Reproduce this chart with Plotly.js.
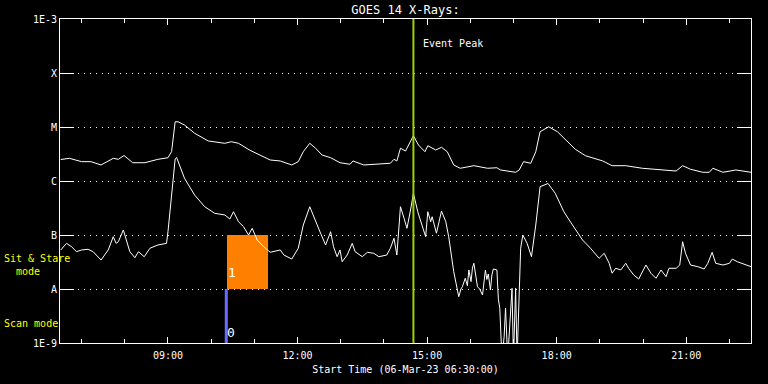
<!DOCTYPE html>
<html><head><meta charset="utf-8">
<script src="https://cdn.plot.ly/plotly-3.0.1.min.js"></script>
<style>html,body{margin:0;padding:0;background:#000;}#chart{width:768px;height:384px;}</style>
</head><body><div id="chart"></div>
<script>
const DAY = "2023-03-06 ";
const longTimes = ["06:31","06:43","07:00","07:13","07:27","07:44","07:51","07:59","08:11","08:28","08:46","09:00","09:05","09:10","09:14","09:23","09:37","09:56","10:19","10:28","10:38","10:54","11:22","11:36","11:52","12:01","12:08","12:17","12:25","12:34","12:46","12:59","13:13","13:17","13:32","13:46","14:09","14:14","14:18","14:23","14:30","14:41","14:48","14:57","15:01","15:12","15:20","15:28","15:37","15:46","16:05","16:24","16:37","16:42","17:03","17:08","17:14","17:24","17:31","17:37","17:49","18:01","18:15","18:26","18:40","19:04","19:17","19:36","19:59","20:22","20:46","20:55","21:06","21:23","21:32","21:37","21:51","22:09","22:30"];
const longFlux = [2.50e-6,2.63e-6,2.28e-6,2.28e-6,1.98e-6,2.63e-6,2.52e-6,2.97e-6,2.18e-6,2.18e-6,2.52e-6,2.70e-6,3.49e-6,1.25e-5,1.25e-5,1.09e-5,7.65e-6,5.51e-6,4.99e-6,5.34e-6,4.99e-6,3.70e-6,2.45e-6,2.35e-6,1.98e-6,2.28e-6,3.49e-6,4.99e-6,4.05e-6,3.03e-6,2.70e-6,2.18e-6,2.04e-6,2.35e-6,1.98e-6,2.04e-6,2.13e-6,2.52e-6,2.35e-6,4.05e-6,3.59e-6,6.9e-6,4.64e-6,3.49e-6,4.50e-6,3.75e-6,4.21e-6,3.49e-6,1.98e-6,1.72e-6,1.92e-6,1.72e-6,1.76e-6,1.60e-6,1.45e-6,1.60e-6,2.28e-6,2.13e-6,3.49e-6,8.18e-6,1.01e-5,8.18e-6,5.34e-6,3.86e-6,2.94e-6,2.35e-6,1.92e-6,1.92e-6,1.72e-6,1.60e-6,1.53e-6,1.92e-6,1.65e-6,1.45e-6,1.45e-6,1.72e-6,1.45e-6,1.60e-6,1.45e-6];
const shortTimes = ["06:31","06:39","06:46","06:53","07:00","07:09","07:16","07:27","07:37","07:44","07:48","07:51","07:58","08:07","08:14","08:19","08:27","08:35","08:46","08:58","09:00","09:05","09:10","09:12","09:23","09:37","09:51","10:05","10:19","10:26","10:31","10:38","10:45","10:52","10:57","11:04","11:13","11:22","11:36","11:41","11:52","12:01","12:08","12:17","12:25","12:32","12:39","12:46","12:50","12:55","12:59","13:02","13:09","13:16","13:20","13:30","13:37","13:46","13:53","14:04","14:09","14:14","14:18","14:23","14:28","14:32","14:37","14:41","14:47","14:53","14:58","15:01","15:05","15:07","15:13","15:20","15:26","15:30","15:37","15:44","15:47","15:49","15:53","15:56","15:58","16:01","16:03","16:05","16:08","16:10","16:13","16:17","16:21","16:23","16:25","16:28","16:30","16:32","16:37","16:39","16:41","16:44","16:47","16:49","16:52","16:58","17:00","17:03","17:05","17:10","17:13","17:19","17:25","17:31","17:37","17:48","17:58","18:10","18:22","18:36","18:47","18:59","19:06","19:13","19:17","19:22","19:29","19:36","19:40","19:47","19:54","20:04","20:11","20:18","20:25","20:32","20:36","20:46","20:51","20:55","20:59","21:06","21:16","21:25","21:30","21:36","21:41","21:51","22:00","22:04","22:11","22:18","22:23","22:30"];
const shortFlux = [5.28e-8,7.0e-8,6.07e-8,4.91e-8,5.28e-8,5.44e-8,4.91e-8,3.44e-8,5.28e-8,9.3e-8,
7.0e-8,7.5e-8,1.24e-7,4.91e-8,3.80e-8,4.91e-8,3.96e-8,5.69e-8,6.53e-8,7.0e-8,
1.15e-7,4.78e-7,2.56e-6,2.72e-6,1.12e-6,5.51e-7,3.34e-7,2.52e-7,2.35e-7,1.98e-7,
2.70e-7,1.76e-7,1.42e-7,1.0e-7,1.33e-7,8.08e-8,6.07e-8,4.78e-8,5.28e-8,4.26e-8,
3.59e-8,5.69e-8,1.53e-7,3.34e-7,1.90e-7,1.08e-7,6.53e-8,1.15e-7,6.07e-8,3.96e-8,
5.28e-8,3.20e-8,4.26e-8,7.0e-8,4.91e-8,3.96e-8,4.78e-8,4.58e-8,3.96e-8,4.26e-8,
5.69e-8,8.7e-8,4.26e-8,3.34e-7,2.04e-7,1.33e-7,2.90e-7,5.92e-7,2.70e-7,1.53e-7,
9.3e-8,2.70e-7,1.76e-7,2.18e-7,1.08e-7,2.78e-7,1.76e-7,9.3e-8,2.09e-8,7.2e-9,
1.0e-8,1.10e-8,1.58e-8,1.15e-8,2.25e-8,1.37e-8,2.45e-8,2.99e-8,1.5e-8,1.10e-8,1.0e-8,7.74e-9,
2.25e-8,1.5e-8,1.9e-8,9.58e-9,1.82e-8,2.35e-8,2.25e-8,6.5e-9,4.4e-9,5e-10,1.3e-9,4.4e-9,5e-10,1.03e-8,5e-10,1.03e-8,5e-10,5.69e-8,
1.0e-7,7.0e-8,3.96e-8,1.53e-7,7.85e-7,9.0e-7,5.92e-7,2.70e-7,1.53e-7,8.08e-8,
5.69e-8,3.70e-8,4.58e-8,2.99e-8,1.96e-8,2.42e-8,2.25e-8,2.99e-8,2.42e-8,1.82e-8,
1.53e-8,2.78e-8,1.96e-8,1.58e-8,2.25e-8,1.69e-8,2.42e-8,2.42e-8,2.78e-8,7.5e-8,
4.58e-8,2.78e-8,2.59e-8,2.35e-8,2.99e-8,4.78e-8,2.99e-8,2.78e-8,2.99e-8,3.59e-8,
3.20e-8,2.99e-8,2.78e-8,2.59e-8];
const yTickVals = [1e-9,1e-8,1e-7,1e-6,1e-5,1e-4,1e-3];
const yTickText = ["1E-9","A","B","C","M","X","1E-3"];
const xTickVals = ["09:00","12:00","15:00","18:00","21:00"];
const eventPeak = "14:41";
const sitStareTimes = ["10:22","11:19"];
const sitStareLevels = [1e-8, 1e-7];
const scanTime = "10:21";
const scanLevels = [1e-9, 1e-8];

const FONT = "DejaVu Sans Mono, monospace";
const ss0 = DAY + sitStareTimes[0], ss1 = DAY + sitStareTimes[1];
const traces = [
  {x: [ss0, ss1, ss1, ss0, ss0],
   y: [sitStareLevels[0], sitStareLevels[0], sitStareLevels[1], sitStareLevels[1], sitStareLevels[0]],
   type: "scatter", mode: "lines", fill: "toself", fillcolor: "#ff7f00",
   line: {width: 0, color: "#ff7f00"}, hoverinfo: "skip"},
  {x: [DAY + scanTime, DAY + scanTime], y: scanLevels, type: "scatter", mode: "lines",
   line: {color: "#6b6bff", width: 3}, hoverinfo: "skip"},
  {x: longTimes.map(t => DAY + t), y: longFlux, type: "scatter", mode: "lines",
   line: {color: "#ffffff", width: 1}, hoverinfo: "skip"},
  {x: shortTimes.map(t => DAY + t), y: shortFlux, type: "scatter", mode: "lines",
   line: {color: "#ffffff", width: 1}, hoverinfo: "skip"}
];
const layout = {
  width: 768, height: 384,
  margin: {l: 60, r: 17, t: 19, b: 41},
  paper_bgcolor: "#000", plot_bgcolor: "#000",
  showlegend: false,
  font: {family: FONT, color: "#fff", size: 10},
  title: {text: "GOES 14 X-Rays:", font: {family: FONT, size: 12, color: "#fff"},
          x: 0.5, xref: "paper", y: 1 - 10/384, yref: "container", yanchor: "middle"},
  xaxis: {
    type: "date", range: [DAY + "06:30", DAY + "22:30"],
    tickvals: xTickVals.map(t => DAY + t), ticktext: xTickVals,
    ticks: "inside", ticklen: 6, tickcolor: "#fff", tickwidth: 1,
    minor: {dtick: 3600000, tick0: DAY + "00:00", ticks: "inside", ticklen: 4, tickcolor: "#fff", showgrid: false},
    showline: true, linecolor: "#fff", linewidth: 1, mirror: "ticks",
    showgrid: false, zeroline: false,
    ticklabelstandoff: 3,
    tickfont: {family: FONT, size: 10, color: "#fff"},
    title: {text: "Start Time (06-Mar-23 06:30:00)", font: {family: FONT, size: 10, color: "#fff"}, standoff: 5}
  },
  yaxis: {
    type: "log", range: [-9, -3],
    tickvals: yTickVals, ticktext: yTickText,
    ticks: "inside", ticklen: 14, tickcolor: "#fff", tickwidth: 1,
    showline: true, linecolor: "#fff", linewidth: 1, mirror: "ticks",
    showgrid: true, gridcolor: "#fff", gridwidth: 1, griddash: "1px,5px",
    zeroline: false,
    tickfont: {family: FONT, size: 10, color: "#fff"}
  },
  shapes: [
    {type: "line", xref: "x", yref: "paper", x0: DAY + eventPeak, x1: DAY + eventPeak, y0: 0, y1: 1,
     line: {color: "#9fd000", width: 2}, layer: "above"}
  ],
  annotations: [
    {text: "Event Peak", xref: "x", yref: "paper", x: DAY + eventPeak, xanchor: "left", xshift: 8,
     y: (343-43)/324, yanchor: "middle", showarrow: false, font: {family: FONT, size: 10, color: "#fff"}},
    {text: "1", xref: "x", yref: "y", x: DAY + sitStareTimes[0], xanchor: "left", xshift: -1,
     y: -7.70, yanchor: "middle", showarrow: false, font: {family: FONT, size: 13, color: "#fff"}},
    {text: "0", xref: "x", yref: "y", x: DAY + scanTime, xanchor: "left", xshift: -1,
     y: -8.81, yanchor: "middle", showarrow: false, font: {family: FONT, size: 13, color: "#fff"}},
    {text: "Sit &amp; Stare<br>&nbsp;&nbsp;mode", xref: "paper", yref: "paper", x: -58/691, xanchor: "left",
     y: (343-265)/324, yanchor: "middle", align: "left", showarrow: false,
     font: {family: FONT, size: 10, color: "#ffff00"}},
    {text: "Scan mode", xref: "paper", yref: "paper", x: -58/691, xanchor: "left",
     y: (343-323)/324, yanchor: "middle", align: "left", showarrow: false,
     font: {family: FONT, size: 10, color: "#ffff00"}}
  ]
};
Plotly.newPlot("chart", traces, layout, {displayModeBar: false, staticPlot: true});
</script>
</body></html>
